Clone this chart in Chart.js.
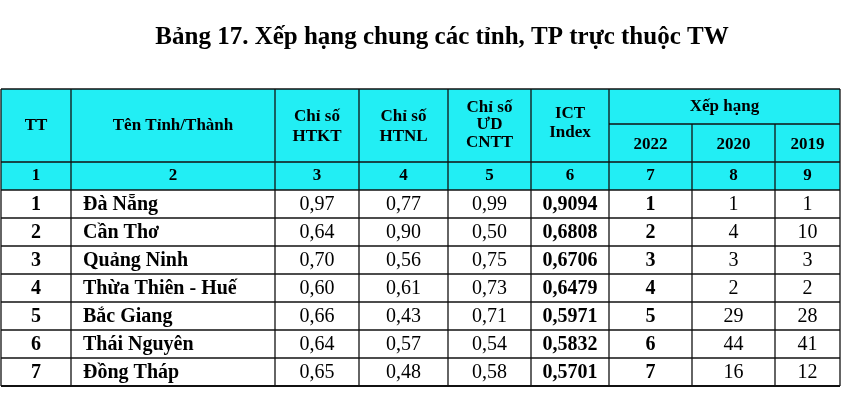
<!DOCTYPE html>
<html><head><meta charset="utf-8">
<script src="https://cdn.jsdelivr.net/npm/chart.js@4"></script>
<style>html,body{margin:0;background:#fff}#c{display:block}</style>
</head><body>
<div style="width:850px;height:412px"><canvas id="c"></canvas></div>
<script>
// table data
const provinces = ['Đà Nẵng', 'Cần Thơ', 'Quảng Ninh', 'Thừa Thiên - Huế', 'Bắc Giang', 'Thái Nguyên', 'Đồng Tháp'];
const htkt = ['0,97', '0,64', '0,70', '0,60', '0,66', '0,64', '0,65'];
const htnl = ['0,77', '0,90', '0,56', '0,61', '0,43', '0,57', '0,48'];
const udcntt = ['0,99', '0,50', '0,75', '0,73', '0,71', '0,54', '0,58'];
const ictIndex = ['0,9094', '0,6808', '0,6706', '0,6479', '0,5971', '0,5832', '0,5701'];
const rank2022 = ['1', '2', '3', '4', '5', '6', '7'];
const rank2020 = ['1', '4', '3', '2', '29', '44', '16'];
const rank2019 = ['1', '10', '3', '2', '28', '41', '12'];
const colNumbers = ['1', '2', '3', '4', '5', '6', '7', '8', '9'];
const title = 'Bảng 17. Xếp hạng chung các tỉnh, TP trực thuộc TW';

// layout (in scale units = px)
const colEdges = [1, 71, 275, 359, 448, 531, 609, 692, 775, 840];
const headTop = 89, headSplit = 124, headBottom = 162, numBottom = 190, rowH = 28;
const CYAN = '#22eef4';
const SERIF = '"Liberation Serif", "DejaVu Serif", serif';

const tablePlugin = {
    id: 'table',
    afterDraw(chart) {
        const ctx = chart.ctx, x = chart.scales.x, y = chart.scales.y;
        const X = v => x.getPixelForValue(v), Y = v => y.getPixelForValue(v);
        const L = X(colEdges[0]), R = X(colEdges[9]);
        ctx.save();
        // title
        ctx.fillStyle = '#000';
        ctx.textAlign = 'center'; ctx.textBaseline = 'middle';
        ctx.font = 'bold 25px ' + SERIF;
        ctx.fillText(title, X(442), Y(38));
        // cyan header
        ctx.fillStyle = CYAN;
        ctx.fillRect(L, Y(headTop), R - L, Y(numBottom) - Y(headTop));
        // grid
        ctx.strokeStyle = '#111'; ctx.lineWidth = 1.3;
        const line = (x1, y1, x2, y2) => { ctx.beginPath(); ctx.moveTo(X(x1), Y(y1)); ctx.lineTo(X(x2), Y(y2)); ctx.stroke(); };
        const bottom = numBottom + rowH * provinces.length;
        colEdges.forEach((e, i) => {
            const top = (i === 7 || i === 8) ? headSplit : headTop;
            line(e, top, e, bottom);
        });
        line(colEdges[0], headTop, colEdges[9], headTop);
        line(colEdges[6], headSplit, colEdges[9], headSplit);
        line(colEdges[0], headBottom, colEdges[9], headBottom);
        line(colEdges[0], numBottom, colEdges[9], numBottom);
        provinces.forEach((p, i) => line(colEdges[0], numBottom + rowH * (i + 1), colEdges[9], numBottom + rowH * (i + 1)));
        ctx.lineWidth = 2;
        line(colEdges[0], bottom, colEdges[9], bottom);

        const cx = i => (colEdges[i] + colEdges[i + 1]) / 2;
        const text = (s, vx, vy, font, align) => {
            ctx.font = font; ctx.textAlign = align || 'center';
            ctx.fillStyle = '#000'; ctx.fillText(s, X(vx), Y(vy));
        };
        const hf = 'bold 17px ' + SERIF;
        const hm = (headTop + headBottom) / 2;
        text('TT', cx(0), hm, hf);
        text('Tên Tỉnh/Thành', cx(1), hm, hf);
        text('Chỉ số', cx(2), hm - 9, hf); text('HTKT', cx(2), hm + 11, hf);
        text('Chỉ số', cx(3), hm - 9, hf); text('HTNL', cx(3), hm + 11, hf);
        text('Chỉ số', cx(4), hm - 18, hf); text('ƯD', cx(4), hm - 1, hf); text('CNTT', cx(4), hm + 17, hf);
        text('ICT', cx(5), hm - 12, hf); text('Index', cx(5), hm + 7, hf);
        text('Xếp hạng', (colEdges[6] + colEdges[9]) / 2, (headTop + headSplit) / 2, hf);
        ['2022', '2020', '2019'].forEach((s, i) => text(s, cx(6 + i), (headSplit + headBottom) / 2 + 2, hf));
        colNumbers.forEach((s, i) => text(s, cx(i), (headBottom + numBottom) / 2, hf));

        const b = 'bold 20px ' + SERIF, n = '20px ' + SERIF;
        provinces.forEach((p, i) => {
            const ym = numBottom + rowH * i + rowH / 2 + 1;
            text(String(i + 1), cx(0), ym, b);
            text(p, colEdges[1] + 12, ym, b, 'left');
            text(htkt[i], cx(2), ym, n);
            text(htnl[i], cx(3), ym, n);
            text(udcntt[i], cx(4), ym, n);
            text(ictIndex[i], cx(5), ym, b);
            text(rank2022[i], cx(6), ym, b);
            text(rank2020[i], cx(7), ym, n);
            text(rank2019[i], cx(8), ym, n);
        });
        ctx.restore();
    }
};

new Chart(document.getElementById('c'), {
    type: 'scatter',
    data: { datasets: [{ data: [], pointRadius: 0 }] },
    options: {
        responsive: true, maintainAspectRatio: false, animation: false,
        layout: { padding: 0 },
        plugins: { legend: { display: false }, tooltip: { enabled: false } },
        scales: {
            x: { type: 'linear', min: 0, max: 850, display: false },
            y: { type: 'linear', min: 0, max: 412, reverse: true, display: false }
        }
    },
    plugins: [tablePlugin]
});
</script>
</body></html>
